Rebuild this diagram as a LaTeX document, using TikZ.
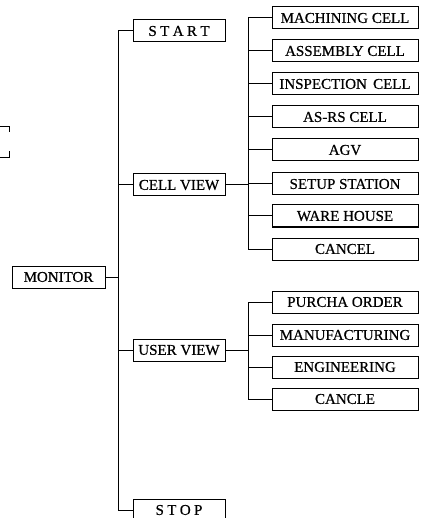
\documentclass[tikz,border=0pt]{standalone}
\usepackage{fontspec}
\setmainfont[FakeBold=0.6]{Liberation Serif}
\newcommand{\letgap}{\kern3.4pt}

\begin{document}
\begin{tikzpicture}[x=1pt,y=-1pt,line width=1pt]
        \tikzset{every node/.style = {shape=rectangle, draw, inner sep=0pt, minimum height=22pt, font=\fontsize{15}{18}\selectfont}}
        \tikzset{menu/.style = {minimum width=92pt}}
        \tikzset{item/.style = {minimum width=146pt}}

        \useasboundingbox (0,0) rectangle (422,518);
        \clip (0,0) rectangle (422,518);

        % cut-off box edge at the left margin
        \draw (0,127) -- (9,127) -- (9,132);
        \draw (9,151) -- (9,158) -- (0,158);

        \node (monitor) at (58.5,277) [minimum width=93pt] {MONITOR};

        \node[menu] (start) at (179,31) {S\letgap T\letgap A\letgap R\letgap T};
        \node[menu] (cellview) at (179,185) {CELL VIEW};
        \node[menu] (userview) at (179,350) {USER VIEW};
        \node[menu] (stop) at (179,510) {S\letgap T\letgap O\letgap P};

        \node[item] (machining) at (345,18) {MACHINING CELL};
        \node[item] (assembly) at (345,51) {ASSEMBLY CELL};
        \node[item] (inspection) at (345,84) {INSPECTION\, CELL};
        \node[item] (asrs) at (345,117) {AS-RS CELL};
        \node[item] (agv) at (345,150) {AGV};
        \node[item] (setup) at (345,184) {SETUP STATION};
        \node[item] (warehouse) at (345,216) {WARE HOUSE};
        \node[item] (cancel) at (345,249) {CANCEL};

        \node[item] (purcha) at (345,302) {PURCHA ORDER};
        \node[item] (manufacturing) at (345,335) {MANUFACTURING};
        \node[item] (engineering) at (345,367) {ENGINEERING};
        \node[item] (cancle) at (345,399) {CANCLE};

        \draw (monitor.east) -- ++(13,0) |- (start);
        \draw (monitor.east) -- ++(13,0) |- (cellview);
        \draw (monitor.east) -- ++(13,0) |- (userview);
        \draw (monitor.east) -- ++(13,0) |- (stop);

        \draw (cellview.east) -- ++(23,0) |- (machining);
        \draw (cellview.east) -- ++(23,0) |- (assembly);
        \draw (cellview.east) -- ++(23,0) |- (inspection);
        \draw (cellview.east) -- ++(23,0) |- (asrs);
        \draw (cellview.east) -- ++(23,0) |- (agv);
        \draw (cellview.east) -- ++(23,0) |- (setup);
        \draw (cellview.east) -- ++(23,0) |- (warehouse);
        \draw (cellview.east) -- ++(23,0) |- (cancel);

        \draw (userview.east) -- ++(23,0) |- (purcha);
        \draw (userview.east) -- ++(23,0) |- (manufacturing);
        \draw (userview.east) -- ++(23,0) |- (engineering);
        \draw (userview.east) -- ++(23,0) |- (cancle);

    \end{tikzpicture}
\end{document}
